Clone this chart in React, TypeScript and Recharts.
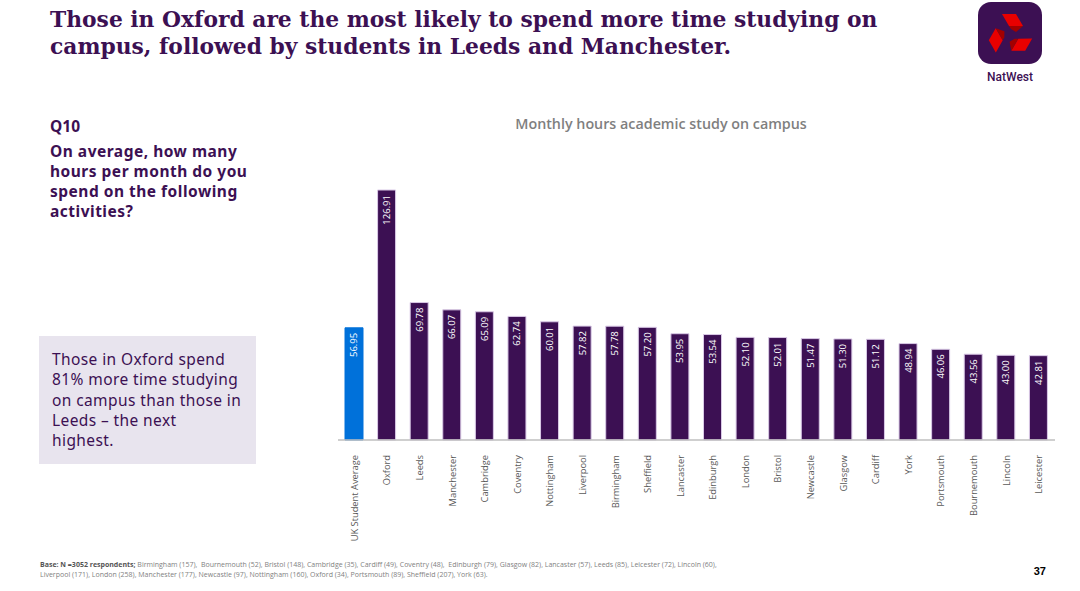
import React from "react";
import { BarChart, Bar, XAxis, YAxis, Cell, LabelList } from "recharts";

const categories = [
  "UK Student Average", "Oxford", "Leeds", "Manchester", "Cambridge", "Coventry",
  "Nottingham", "Liverpool", "Birmingham", "Sheffield", "Lancaster", "Edinburgh",
  "London", "Bristol", "Newcastle", "Glasgow", "Cardiff", "York", "Portsmouth",
  "Bournemouth", "Lincoln", "Leicester",
];
const hours = [
  56.95, 126.91, 69.78, 66.07, 65.09, 62.74, 60.01, 57.82, 57.78, 57.2, 53.95, 53.54,
  52.1, 52.01, 51.47, 51.3, 51.12, 48.94, 46.06, 43.56, 43.0, 42.81,
];

const data = categories.map((name, i) => ({ name, hours: hours[i] }));

const PURPLE = "#3C1053";
const BLUE = "#0071DA";

const CategoryTick = ({ x, y, payload }: any) => (
  <text
    x={x}
    y={y + 7}
    transform={`rotate(-90, ${x}, ${y + 7})`}
    textAnchor="end"
    dominantBaseline="central"
    fontSize={9.3}
    fill="#595959"
    fontFamily="Open Sans"
  >
    {payload.value}
  </text>
);

const ValueLabel = ({ x, y, width, value }: any) => {
  const cx = x + width / 2;
  const cy = y + 5;
  return (
    <text
      x={cx}
      y={cy}
      transform={`rotate(-90, ${cx}, ${cy})`}
      textAnchor="end"
      dominantBaseline="central"
      fontSize={9.5}
      fill="#ffffff"
      fontFamily="Open Sans"
    >
      {Number(value).toFixed(2)}
    </text>
  );
};

// rough NatWest mark: three blocks turned round the centre
const Piece = ({ angle }: { angle: number }) => (
  <g transform={`rotate(${angle}, 32, 33)`}>
    <polygon points="24,12 38,12 45,24 31,24" fill="#E80000" />
    <polygon points="31,24 45,24 38,30 33,27" fill="#A30000" />
  </g>
);

const Logo = () => (
  <svg width={64} height={62} viewBox="0 0 64 62">
    <rect x={0} y={0} width={64} height={62} rx={13} fill={PURPLE} />
    <Piece angle={0} />
    <Piece angle={120} />
    <Piece angle={240} />
  </svg>
);

export default function App() {
  return (
    <div
      style={{
        position: "absolute",
        left: 0,
        top: 0,
        width: 1080,
        height: 591,
        background: "#ffffff",
        overflow: "hidden",
        fontFamily: "Noto Sans",
      }}
    >
      <div
        style={{
          position: "absolute",
          left: 50,
          top: 6,
          width: 940,
          fontFamily: "DejaVu Serif",
          fontWeight: 700,
          fontSize: 21.8,
          lineHeight: "27px",
          color: PURPLE,
          whiteSpace: "nowrap",
        }}
      >
        Those in Oxford are the most likely to spend more time studying on
        <br />
        campus, followed by students in Leeds and Manchester.
      </div>

      <div style={{ position: "absolute", left: 978, top: 2 }}>
        <Logo />
      </div>
      <div
        style={{
          position: "absolute",
          left: 970,
          top: 70,
          width: 80,
          textAlign: "center",
          fontFamily: "Roboto",
          fontSize: 12,
          color: PURPLE,
          fontWeight: 500,
        }}
      >
        NatWest
      </div>

      <div
        style={{
          position: "absolute",
          left: 50,
          top: 116,
          color: PURPLE,
          fontWeight: 700,
          fontSize: 15.5,
          lineHeight: "20px",
        }}
      >
        Q10
      </div>
      <div
        style={{
          position: "absolute",
          left: 50,
          top: 141,
          color: PURPLE,
          fontWeight: 700,
          fontSize: 15.5,
          letterSpacing: 0.5,
          lineHeight: "20px",
          whiteSpace: "nowrap",
        }}
      >
        On average, how many
        <br />
        hours per month do you
        <br />
        spend on the following
        <br />
        activities?
      </div>

      <div
        style={{
          position: "absolute",
          left: 39,
          top: 336,
          width: 217,
          height: 128,
          background: "#E8E4EE",
        }}
      >
        <div
          style={{
            position: "absolute",
            left: 13,
            top: 13,
            color: PURPLE,
            fontSize: 15.5,
            letterSpacing: 0.4,
            lineHeight: "20.3px",
            whiteSpace: "nowrap",
          }}
        >
          Those in Oxford spend
          <br />
          81% more time studying
          <br />
          on campus than those in
          <br />
          Leeds – the next
          <br />
          highest.
        </div>
      </div>

      <div
        style={{
          position: "absolute",
          left: 330,
          top: 114,
          width: 662,
          textAlign: "center",
          fontFamily: "Open Sans",
          fontWeight: 600,
          fontSize: 14.3,
          color: "#7F7F7F",
        }}
      >
        Monthly hours academic study on campus
      </div>

      <div style={{ position: "absolute", left: 330, top: 100 }}>
        <BarChart
          width={735}
          height={460}
          data={data}
          margin={{ top: 90, right: 10, bottom: 10, left: 8 }}
          barSize={18}
        >
          <XAxis
            dataKey="name"
            interval={0}
            height={110}
            tickLine={false}
            axisLine={{ stroke: "#BFBFBF", strokeWidth: 1.5 }}
            tick={<CategoryTick />}
          />
          <YAxis hide domain={[0, "dataMax"]} />
          <Bar dataKey="hours" isAnimationActive={false}>
            {data.map((d, i) => (
              <Cell
                key={d.name}
                fill={i === 0 ? BLUE : PURPLE}
                stroke={i === 0 ? BLUE : "#D9C9E6"}
                strokeWidth={1}
              />
            ))}
            <LabelList dataKey="hours" content={<ValueLabel />} />
          </Bar>
        </BarChart>
      </div>

      <div
        style={{
          position: "absolute",
          left: 40,
          top: 560,
          width: 760,
          fontFamily: "Open Sans",
          fontSize: 7,
          lineHeight: "9.5px",
          color: "#7F7F7F",
          whiteSpace: "nowrap",
        }}
      >
        <b style={{ color: "#555555" }}>Base: N =3052 respondents;</b> Birmingham (157),&nbsp; Bournemouth (52), Bristol (148), Cambridge (35), Cardiff (49), Coventry (48),&nbsp; Edinburgh (79), Glasgow (82), Lancaster (57), Leeds (85), Leicester (72), Lincoln (60),
        <br />
        Liverpool (171), London (258), Manchester (177), Newcastle (97), Nottingham (160), Oxford (34), Portsmouth (89), Sheffield (207), York (63).
      </div>
      <div
        style={{
          position: "absolute",
          left: 1020,
          top: 565,
          width: 26,
          textAlign: "right",
          fontFamily: "Liberation Sans Narrow, Liberation Sans",
          fontWeight: 700,
          fontSize: 11,
          color: "#000000",
        }}
      >
        37
      </div>
    </div>
  );
}
